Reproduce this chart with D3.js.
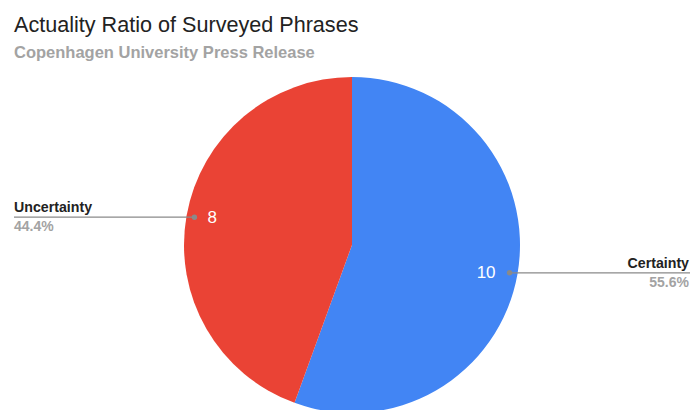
<!DOCTYPE html>
<html>
<head>
<meta charset="utf-8">
<script src="https://cdn.jsdelivr.net/npm/d3@7"></script>
<style>
  body { margin: 0; background: #fff; }
  text { font-family: "Liberation Sans", Arial, sans-serif; }
</style>
</head>
<body>
<script>
// chart data
var categories = ["Certainty", "Uncertainty"];
var counts = [10, 8];
var sliceColors = ["#4285f4", "#ea4335"];

var width = 690, height = 410;
var cx = 352, cy = 245, radius = 168;

var svg = d3.select('body')
  .append('svg')
  .attr('width', width)
  .attr('height', height);

svg.append('text')
  .attr('x', 14).attr('y', 32)
  .attr('font-size', 21.6)
  .attr('fill', '#222')
  .text('Actuality Ratio of Surveyed Phrases');

svg.append('text')
  .attr('x', 14).attr('y', 58)
  .attr('font-size', 16.5)
  .attr('font-weight', 'bold')
  .attr('fill', '#a3a3a3')
  .text('Copenhagen University Press Release');

var total = d3.sum(counts);
var data = categories.map(function(c, i) {
  return { name: c, value: counts[i], color: sliceColors[i] };
});

var pie = d3.pie()
  .sort(null)
  .value(function(d) { return d.value; });

var arc = d3.arc().innerRadius(0).outerRadius(radius);
var dotArc = d3.arc().innerRadius(160).outerRadius(160);

var g = svg.append('g')
  .attr('transform', 'translate(' + cx + ',' + cy + ')');

var arcs = pie(data);

g.selectAll('path')
  .data(arcs)
  .enter()
  .append('path')
  .attr('d', arc)
  .attr('fill', function(d) { return d.data.color; });

// leader lines, value labels + outside labels
arcs.forEach(function(d) {
  var p = dotArc.centroid(d);
  var right = p[0] > 0;
  var x0 = cx + p[0], y0 = cy + p[1];
  var xEnd = right ? width : 14;

  svg.append('text')
    .attr('x', right ? x0 - 14 : x0 + 13)
    .attr('y', y0 + 1)
    .attr('text-anchor', right ? 'end' : 'start')
    .attr('dominant-baseline', 'middle')
    .attr('font-size', 17)
    .attr('fill', '#fff')
    .text(d.data.value);

  svg.append('line')
    .attr('x1', x0).attr('y1', y0)
    .attr('x2', xEnd).attr('y2', y0)
    .attr('stroke', '#8a8a8a')
    .attr('stroke-width', 1.3);
  svg.append('circle')
    .attr('cx', x0).attr('cy', y0)
    .attr('r', 2.7)
    .attr('fill', '#8a8a8a');

  var tx = right ? 689 : 14;
  var anchor = right ? 'end' : 'start';
  svg.append('text')
    .attr('x', tx).attr('y', y0 - 5)
    .attr('text-anchor', anchor)
    .attr('font-size', 14.2)
    .attr('font-weight', 'bold')
    .attr('fill', '#222')
    .text(d.data.name);
  svg.append('text')
    .attr('x', tx).attr('y', y0 + 14)
    .attr('text-anchor', anchor)
    .attr('font-size', 14)
    .attr('font-weight', 'bold')
    .attr('fill', '#a3a3a3')
    .text(d3.format('.1%')(d.data.value / total));
});
</script>
</body>
</html>
